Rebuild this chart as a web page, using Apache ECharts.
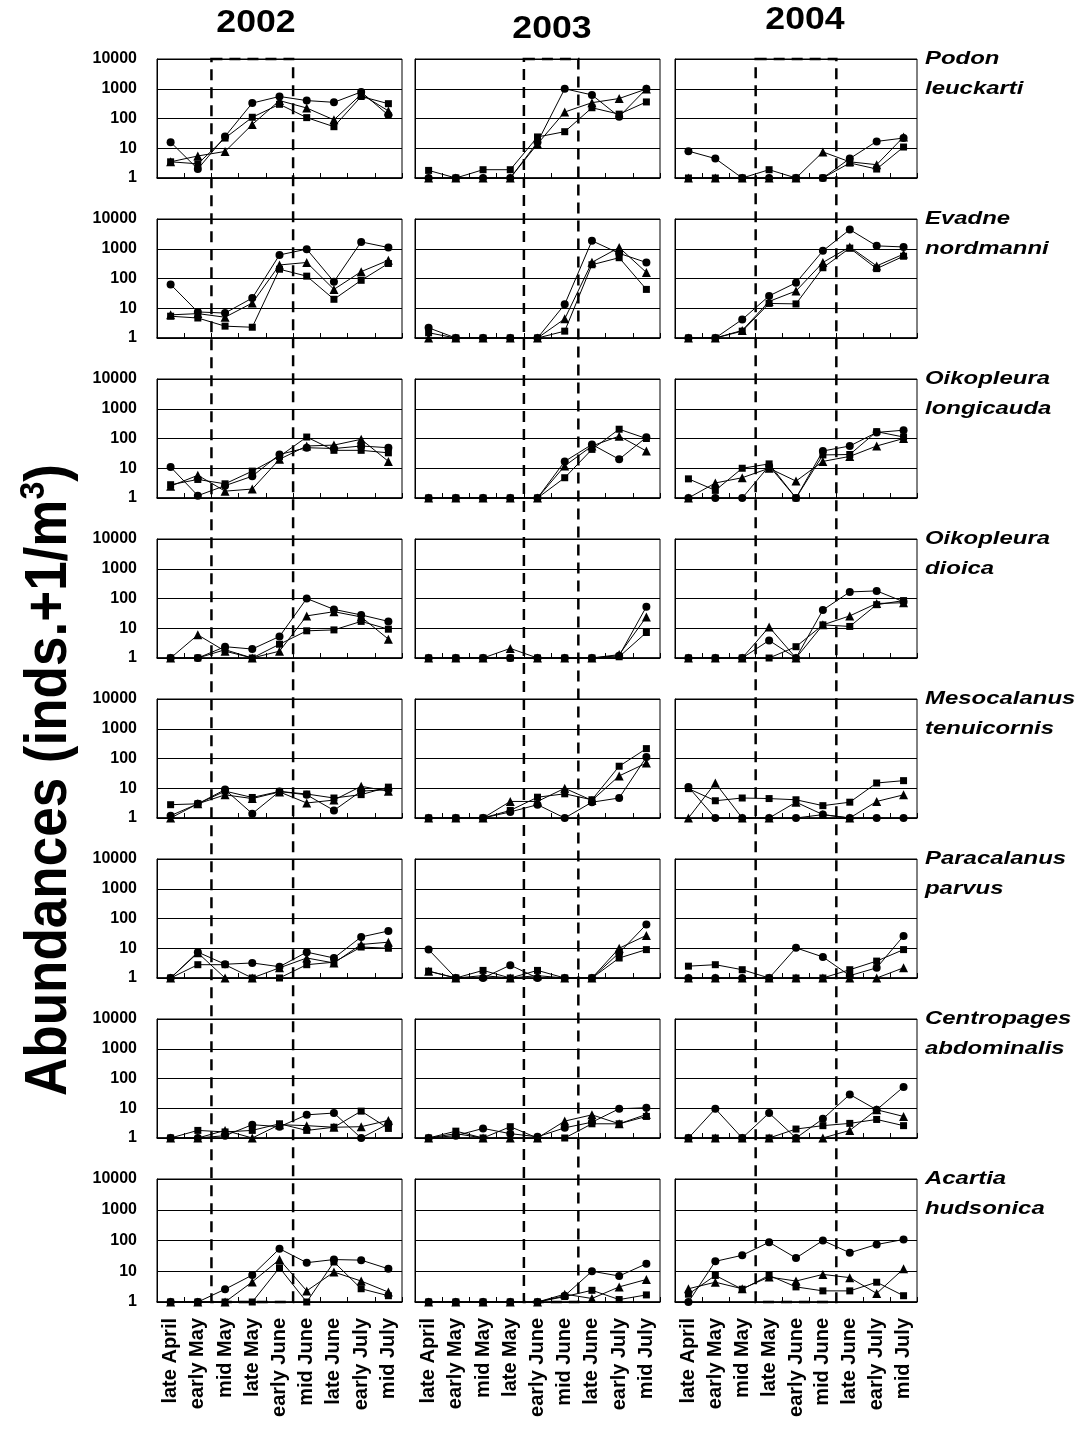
<!DOCTYPE html>
<html>
<head>
<meta charset="utf-8">
<title>Zooplankton abundances 2002-2004</title>
<script src="https://cdn.jsdelivr.net/npm/echarts@6.0.0/dist/echarts.min.js"></script>
<style>
  html, body { margin: 0; padding: 0; background: #fff; }
  #chart { width: 1082px; height: 1429px; }
</style>
</head>
<body>
<div id="chart"></div>
<script>
// categories
const months = ['late April', 'early May', 'mid May', 'late May', 'early June',
                'mid June', 'late June', 'early July', 'mid July'];
const years = ['2002', '2003', '2004'];
const speciesNames = [
    ['Podon', 'leuckarti'],
    ['Evadne', 'nordmanni'],
    ['Oikopleura', 'longicauda'],
    ['Oikopleura', 'dioica'],
    ['Mesocalanus', 'tenuicornis'],
    ['Paracalanus', 'parvus'],
    ['Centropages', 'abdominalis'],
    ['Acartia', 'hudsonica']
];
// months inside the dashed box, per year
const boxFirst = ['mid May', 'early June', 'late May'];
const boxLast = ['early June', 'mid June', 'mid June'];

// values, one row per year (2002, 2003, 2004)
const podonCircle = [
    [16, 2, 25, 330, 550, 400, 350, 780, 130],
    [1, 1, 1, 1, 16, 1000, 620, 115, 1000],
    [8, 4.5, 1, 1, 1, 1, 4.5, 17, 22]
];
const podonSquare = [
    [3.5, 3, 22, 110, 300, 107, 53, 550, 315],
    [1.8, 1, 1.9, 1.9, 24, 36, 230, 140, 360],
    [1, 1, 1, 1.9, 1, 1, 3.2, 2, 11]
];
const podonTriangle = [
    [3.5, 5.5, 7.8, 63, 400, 225, 90, 650, 180],
    [1, 1, 1, 1, 14, 165, 340, 470, 980],
    [1, 1, 1, 1, 1, 7.5, 3.5, 2.8, 24]
];

const evadneCircle = [
    [63, 7.5, 6.9, 22, 620, 970, 78, 1700, 1100],
    [2.2, 1, 1, 1, 1, 13.5, 1860, 700, 345],
    [1, 1, 4.2, 26, 72, 850, 4400, 1250, 1150]
];
const evadneSquare = [
    [5.4, 4.7, 2.5, 2.3, 205, 120, 20, 87, 320],
    [1.5, 1, 1, 1, 1, 1.7, 290, 500, 43],
    [1, 1, 1.7, 14.5, 14, 230, 1050, 215, 560]
];
const evadneTriangle = [
    [6, 6.6, 5, 15, 285, 345, 43, 170, 410],
    [1, 1, 1, 1, 1, 4.4, 350, 1100, 160],
    [1, 1, 1.8, 17, 38, 345, 1150, 265, 660]
];

const longicaudaCircle = [
    [11, 1.2, 2.6, 5.4, 29, 49, 46, 56, 49],
    [1, 1, 1, 1, 1, 17, 63, 20, 110],
    [1, 1, 1, 12, 1, 38, 56, 160, 190]
];
const longicaudaSquare = [
    [2.8, 4.2, 3, 8, 25, 112, 40, 40, 33],
    [1, 1, 1, 1, 1, 4.8, 43, 205, 100],
    [4.4, 1.8, 10, 14, 1, 28, 29, 170, 112]
];
const longicaudaTriangle = [
    [2.5, 5.8, 1.7, 2, 20, 56, 60, 94, 17],
    [1, 1, 1, 1, 1, 12, 56, 120, 38],
    [1, 3.2, 4.8, 10, 3.7, 17, 25, 56, 100]
];

const dioicaCircle = [
    [1, 1, 2.4, 2, 5.3, 100, 43, 28, 17],
    [1, 1, 1, 1, 1, 1, 1, 1.2, 53],
    [1, 1, 1, 3.9, 1, 41, 166, 180, 78]
];
const dioicaSquare = [
    [1, 1, 1.9, 1, 2.9, 8.2, 8.8, 17, 9.3],
    [1, 1, 1, 1, 1, 1, 1, 1.1, 7.2],
    [1, 1, 1, 1, 2.4, 13, 11.5, 62, 85]
];
const dioicaTriangle = [
    [1, 6, 1.7, 1, 1.7, 26, 36, 24, 4.3],
    [1, 1, 1, 2.1, 1, 1, 1, 1.3, 24],
    [1, 1, 1, 11, 1, 13, 26, 68, 72]
];

const mesocalanusCircle = [
    [1.2, 3, 9, 1.4, 7.8, 6, 1.8, 8, 9],
    [1, 1, 1, 1.6, 2.8, 1, 3.4, 4.7, 112],
    [11, 1, 1, 1, 1, 1.3, 1, 1, 1]
];
const mesocalanusSquare = [
    [2.8, 3, 8, 4.9, 7.8, 6.4, 4.7, 6.1, 10.9],
    [1, 1, 1, 1.8, 5, 6.5, 4.1, 55, 215],
    [9.7, 3.8, 4.7, 4.5, 4.1, 2.6, 3.4, 15, 18]
];
const mesocalanusTriangle = [
    [1, 3, 6, 4.5, 7.5, 3.2, 4, 11.6, 8],
    [1, 1, 1, 3.6, 3.6, 10, 3.9, 26, 70],
    [1, 15, 1, 1, 3.4, 1.3, 1, 3.6, 6]
];

const paracalanusCircle = [
    [1, 7.4, 2.9, 3.2, 2.4, 7.4, 4.7, 24, 38],
    [9, 1, 1, 2.7, 1, 1, 1, 7, 63],
    [1, 1, 1, 1, 10.3, 5.1, 1.2, 2.2, 26]
];
const paracalanusSquare = [
    [1, 2.8, 2.8, 1, 1, 2.8, 3.4, 11, 10],
    [1.7, 1, 1.8, 1, 1.8, 1, 1, 4.7, 9],
    [2.5, 2.8, 1.9, 1, 1, 1, 1.9, 3.7, 9]
];
const paracalanusTriangle = [
    [1, 7, 1, 1, 2.2, 4.7, 3.2, 13.4, 16],
    [1.7, 1, 1.2, 1, 1.2, 1, 1, 10, 27],
    [1, 1, 1, 1, 1, 1, 1, 1, 2.2]
];

const centropagesCircle = [
    [1, 1, 1.2, 2.8, 2.4, 6, 6.9, 1, 3],
    [1, 1.2, 2.1, 1.4, 1.1, 2.2, 3.4, 9.6, 10.4],
    [1, 9.6, 1, 6.9, 1, 4.4, 29, 8.9, 52]
];
const centropagesSquare = [
    [1, 1.8, 1.6, 1.8, 3, 1.8, 2.3, 8, 2.1],
    [1, 1.7, 1, 2.4, 1, 1, 3, 3, 5.3],
    [1, 1, 1, 1, 2, 2.6, 3.1, 4.2, 2.6]
];
const centropagesTriangle = [
    [1, 1, 1.8, 1, 2.8, 2.6, 2.3, 2.4, 3.9],
    [1, 1.4, 1, 1, 1, 3.7, 6, 3, 6.2],
    [1, 1, 1, 1, 1, 1, 1.8, 8.9, 5.3]
];

const acartiaCircle = [
    [1, 1, 2.6, 7.5, 54, 19, 24, 23, 12],
    [1, 1, 1, 1, 1, 1.6, 10, 7, 17.5],
    [1, 21, 33, 88, 27, 100, 40, 74, 108]
];
const acartiaSquare = [
    [1, 1, 1, 1, 13, 1, 20, 2.7, 1.6],
    [1, 1, 1, 1, 1, 1.5, 2.4, 1.2, 1.7],
    [1.8, 7.3, 2.6, 7.3, 3.1, 2.3, 2.3, 4.4, 1.6]
];
const acartiaTriangle = [
    [1, 1, 1, 4.5, 24, 2.3, 9.4, 4.8, 2.1],
    [1, 1, 1, 1, 1, 1.8, 1.3, 3.1, 5.4],
    [2.7, 4.4, 2.7, 6.5, 4.8, 7.9, 6.2, 1.9, 12]
];

const speciesData = [
    [podonCircle, podonSquare, podonTriangle],
    [evadneCircle, evadneSquare, evadneTriangle],
    [longicaudaCircle, longicaudaSquare, longicaudaTriangle],
    [dioicaCircle, dioicaSquare, dioicaTriangle],
    [mesocalanusCircle, mesocalanusSquare, mesocalanusTriangle],
    [paracalanusCircle, paracalanusSquare, paracalanusTriangle],
    [centropagesCircle, centropagesSquare, centropagesTriangle],
    [acartiaCircle, acartiaSquare, acartiaTriangle]
];

// layout
const colLeft = [157, 415, 675];
const colWidth = [245, 245, 242];
const rowTop = 59, rowStep = 160, rowHeight = 119;
const symbols = ['circle', 'rect', 'triangle'];
const symbolSizes = [8, 7, 9];

let chart = echarts.init(document.getElementById('chart'), null, { renderer: 'canvas' });

let grids = [], xAxes = [], yAxes = [], series = [];
speciesData.forEach((sp, r) => {
    for (let c = 0; c < 3; c++) {
        let k = r * 3 + c;
        grids.push({
            left: colLeft[c],
            width: colWidth[c],
            top: rowTop + rowStep * r,
            height: r === 7 ? rowHeight + 4 : rowHeight,
            show: true,
            borderColor: '#000',
            borderWidth: 1,
            backgroundColor: '#fff'
        });
        xAxes.push({
            type: 'category',
            gridIndex: k,
            data: months,
            boundaryGap: true,
            axisLine: { lineStyle: { color: '#000', width: 1.5 } },
            axisTick: { show: true, inside: true, length: 5, lineStyle: { color: '#000' } },
            axisLabel: {
                show: r === 7,
                interval: 0,
                rotate: 90,
                margin: 16,
                color: '#000',
                fontFamily: 'Liberation Sans',
                fontWeight: 'bold',
                fontSize: 20
            },
            splitLine: { show: false }
        });
        yAxes.push({
            type: 'log',
            logBase: 10,
            gridIndex: k,
            min: 1,
            max: 10000,
            axisLine: { show: true, lineStyle: { color: '#000' } },
            axisTick: { show: false },
            axisLabel: {
                show: c === 0,
                margin: 20,
                color: '#000',
                fontFamily: 'Liberation Sans',
                fontWeight: 'bold',
                fontSize: 16,
                formatter: v => String(Math.round(v))
            },
            splitLine: { show: true, lineStyle: { color: '#000', width: 1 } }
        });
        sp.forEach((vals, s) => {
            series.push({
                type: 'line',
                xAxisIndex: k,
                yAxisIndex: k,
                data: vals[c],
                symbol: symbols[s],
                symbolSize: symbolSizes[s],
                showAllSymbol: true,
                clip: false,
                itemStyle: { color: '#000' },
                lineStyle: { color: '#000', width: 1 },
                z: 3
            });
        });
    }
});

let texts = [];
// year titles
const yearPos = [[256, 23], [552, 29], [805, 20]];
years.forEach((y, i) => {
    texts.push({
        type: 'text', x: yearPos[i][0], y: yearPos[i][1], scaleX: 1.15,
        style: {
            text: y, fill: '#000', fontFamily: 'Liberation Sans', fontWeight: 'bold', fontSize: 31,
            align: 'center', verticalAlign: 'middle', textAlign: 'center', textVerticalAlign: 'middle'
        }
    });
});
// species names on the right
speciesNames.forEach((nm, r) => {
    nm.forEach((word, j) => {
        texts.push({
            type: 'text', x: 925, y: rowTop + rowStep * r + j * 30, scaleX: 1.26,
            style: {
                text: word, fill: '#000', fontFamily: 'Liberation Sans', fontWeight: 'bold',
                fontStyle: 'italic', fontSize: 19,
                align: 'left', verticalAlign: 'middle', textAlign: 'left', textVerticalAlign: 'middle'
            }
        });
    });
});
// y axis title
texts.push({
    type: 'text', x: 50, y: 780, rotation: Math.PI / 2, scaleY: 1.12,
    style: {
        text: '{a|Abundances (inds.+1/m}{s|3}{a|)}',
        rich: {
            a: { fontFamily: 'Liberation Sans', fontWeight: 'bold', fontSize: 53, lineHeight: 60, fill: '#000' },
            s: { fontFamily: 'Liberation Sans', fontWeight: 'bold', fontSize: 32, lineHeight: 32, verticalAlign: 'top', fill: '#000' }
        },
        align: 'center', verticalAlign: 'middle', textAlign: 'center', textVerticalAlign: 'middle'
    }
});

chart.setOption({
    animation: false,
    backgroundColor: '#fff',
    grid: grids,
    xAxis: xAxes,
    yAxis: yAxes,
    series: series,
    graphic: texts
});

// dashed boxes spanning all species, one per year
let boxes = [];
for (let c = 0; c < 3; c++) {
    let a = months.indexOf(boxFirst[c]), b = months.indexOf(boxLast[c]);
    let p0 = chart.convertToPixel({ xAxisIndex: c }, 0);
    let p1 = chart.convertToPixel({ xAxisIndex: c }, 1);
    let step = p1 - p0;
    let left = chart.convertToPixel({ xAxisIndex: c }, a) - step / 2;
    let right = chart.convertToPixel({ xAxisIndex: c }, b) + step / 2;
    let top = chart.convertToPixel({ yAxisIndex: c }, 10000);
    let bottom = chart.convertToPixel({ yAxisIndex: 21 + c }, 1);
    boxes.push({
        type: 'rect', z: 100,
        shape: { x: left, y: top, width: right - left, height: bottom - top },
        style: { fill: null, stroke: '#000', lineWidth: 2.5, lineDash: [11, 7] }
    });
}
chart.setOption({ graphic: texts.concat(boxes) });
</script>
</body>
</html>
